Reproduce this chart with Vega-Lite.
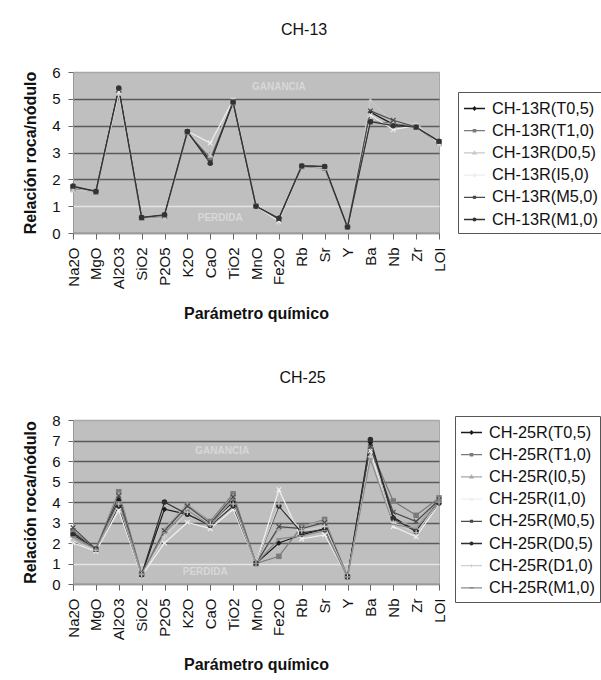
{
  "$schema": "https://vega.github.io/schema/vega-lite/v6.json",
  "background": "white",
  "padding": {"left": 22, "top": 21, "right": 0, "bottom": 0},
  "spacing": 46,
  "datasets": {
    "ch13": [
      {"p":"Na2O","s":"CH-13R(T0,5)","v":1.70},{"p":"Na2O","s":"CH-13R(T1,0)","v":1.65},{"p":"Na2O","s":"CH-13R(D0,5)","v":1.60},{"p":"Na2O","s":"CH-13R(I5,0)","v":1.70},{"p":"Na2O","s":"CH-13R(M5,0)","v":1.72},{"p":"Na2O","s":"CH-13R(M1,0)","v":1.75},
      {"p":"MgO","s":"CH-13R(T0,5)","v":1.55},{"p":"MgO","s":"CH-13R(T1,0)","v":1.53},{"p":"MgO","s":"CH-13R(D0,5)","v":1.55},{"p":"MgO","s":"CH-13R(I5,0)","v":1.55},{"p":"MgO","s":"CH-13R(M5,0)","v":1.55},{"p":"MgO","s":"CH-13R(M1,0)","v":1.55},
      {"p":"Al2O3","s":"CH-13R(T0,5)","v":5.35},{"p":"Al2O3","s":"CH-13R(T1,0)","v":5.30},{"p":"Al2O3","s":"CH-13R(D0,5)","v":5.20},{"p":"Al2O3","s":"CH-13R(I5,0)","v":5.25},{"p":"Al2O3","s":"CH-13R(M5,0)","v":5.35},{"p":"Al2O3","s":"CH-13R(M1,0)","v":5.40},
      {"p":"SiO2","s":"CH-13R(T0,5)","v":0.57},{"p":"SiO2","s":"CH-13R(T1,0)","v":0.55},{"p":"SiO2","s":"CH-13R(D0,5)","v":0.55},{"p":"SiO2","s":"CH-13R(I5,0)","v":0.58},{"p":"SiO2","s":"CH-13R(M5,0)","v":0.57},{"p":"SiO2","s":"CH-13R(M1,0)","v":0.58},
      {"p":"P2O5","s":"CH-13R(T0,5)","v":0.66},{"p":"P2O5","s":"CH-13R(T1,0)","v":0.62},{"p":"P2O5","s":"CH-13R(D0,5)","v":0.55},{"p":"P2O5","s":"CH-13R(I5,0)","v":0.65},{"p":"P2O5","s":"CH-13R(M5,0)","v":0.66},{"p":"P2O5","s":"CH-13R(M1,0)","v":0.68},
      {"p":"K2O","s":"CH-13R(T0,5)","v":3.78},{"p":"K2O","s":"CH-13R(T1,0)","v":3.75},{"p":"K2O","s":"CH-13R(D0,5)","v":3.78},{"p":"K2O","s":"CH-13R(I5,0)","v":3.80},{"p":"K2O","s":"CH-13R(M5,0)","v":3.78},{"p":"K2O","s":"CH-13R(M1,0)","v":3.78},
      {"p":"CaO","s":"CH-13R(T0,5)","v":2.70},{"p":"CaO","s":"CH-13R(T1,0)","v":2.80},{"p":"CaO","s":"CH-13R(D0,5)","v":2.90},{"p":"CaO","s":"CH-13R(I5,0)","v":3.35},{"p":"CaO","s":"CH-13R(M5,0)","v":2.65},{"p":"CaO","s":"CH-13R(M1,0)","v":2.60},
      {"p":"TiO2","s":"CH-13R(T0,5)","v":4.90},{"p":"TiO2","s":"CH-13R(T1,0)","v":4.85},{"p":"TiO2","s":"CH-13R(D0,5)","v":5.00},{"p":"TiO2","s":"CH-13R(I5,0)","v":4.95},{"p":"TiO2","s":"CH-13R(M5,0)","v":4.90},{"p":"TiO2","s":"CH-13R(M1,0)","v":4.88},
      {"p":"MnO","s":"CH-13R(T0,5)","v":1.00},{"p":"MnO","s":"CH-13R(T1,0)","v":1.00},{"p":"MnO","s":"CH-13R(D0,5)","v":1.00},{"p":"MnO","s":"CH-13R(I5,0)","v":1.00},{"p":"MnO","s":"CH-13R(M5,0)","v":1.00},{"p":"MnO","s":"CH-13R(M1,0)","v":1.00},
      {"p":"Fe2O","s":"CH-13R(T0,5)","v":0.52},{"p":"Fe2O","s":"CH-13R(T1,0)","v":0.50},{"p":"Fe2O","s":"CH-13R(D0,5)","v":0.40},{"p":"Fe2O","s":"CH-13R(I5,0)","v":0.45},{"p":"Fe2O","s":"CH-13R(M5,0)","v":0.52},{"p":"Fe2O","s":"CH-13R(M1,0)","v":0.55},
      {"p":"Rb","s":"CH-13R(T0,5)","v":2.50},{"p":"Rb","s":"CH-13R(T1,0)","v":2.48},{"p":"Rb","s":"CH-13R(D0,5)","v":2.50},{"p":"Rb","s":"CH-13R(I5,0)","v":2.50},{"p":"Rb","s":"CH-13R(M5,0)","v":2.50},{"p":"Rb","s":"CH-13R(M1,0)","v":2.50},
      {"p":"Sr","s":"CH-13R(T0,5)","v":2.47},{"p":"Sr","s":"CH-13R(T1,0)","v":2.42},{"p":"Sr","s":"CH-13R(D0,5)","v":2.45},{"p":"Sr","s":"CH-13R(I5,0)","v":2.45},{"p":"Sr","s":"CH-13R(M5,0)","v":2.47},{"p":"Sr","s":"CH-13R(M1,0)","v":2.48},
      {"p":"Y","s":"CH-13R(T0,5)","v":0.22},{"p":"Y","s":"CH-13R(T1,0)","v":0.22},{"p":"Y","s":"CH-13R(D0,5)","v":0.22},{"p":"Y","s":"CH-13R(I5,0)","v":0.22},{"p":"Y","s":"CH-13R(M5,0)","v":0.22},{"p":"Y","s":"CH-13R(M1,0)","v":0.22},
      {"p":"Ba","s":"CH-13R(T0,5)","v":4.50},{"p":"Ba","s":"CH-13R(T1,0)","v":4.15},{"p":"Ba","s":"CH-13R(D0,5)","v":4.95},{"p":"Ba","s":"CH-13R(I5,0)","v":4.40},{"p":"Ba","s":"CH-13R(M5,0)","v":4.55},{"p":"Ba","s":"CH-13R(M1,0)","v":4.15},
      {"p":"Nb","s":"CH-13R(T0,5)","v":4.05},{"p":"Nb","s":"CH-13R(T1,0)","v":4.10},{"p":"Nb","s":"CH-13R(D0,5)","v":4.10},{"p":"Nb","s":"CH-13R(I5,0)","v":3.85},{"p":"Nb","s":"CH-13R(M5,0)","v":4.20},{"p":"Nb","s":"CH-13R(M1,0)","v":4.00},
      {"p":"Zr","s":"CH-13R(T0,5)","v":3.95},{"p":"Zr","s":"CH-13R(T1,0)","v":3.95},{"p":"Zr","s":"CH-13R(D0,5)","v":4.10},{"p":"Zr","s":"CH-13R(I5,0)","v":4.00},{"p":"Zr","s":"CH-13R(M5,0)","v":3.95},{"p":"Zr","s":"CH-13R(M1,0)","v":3.95},
      {"p":"LOI","s":"CH-13R(T0,5)","v":3.40},{"p":"LOI","s":"CH-13R(T1,0)","v":3.35},{"p":"LOI","s":"CH-13R(D0,5)","v":3.30},{"p":"LOI","s":"CH-13R(I5,0)","v":3.35},{"p":"LOI","s":"CH-13R(M5,0)","v":3.40},{"p":"LOI","s":"CH-13R(M1,0)","v":3.42}
    ],
    "ch25": [
      {"p":"Na2O","s":"CH-25R(T0,5)","v":2.5},{"p":"Na2O","s":"CH-25R(T1,0)","v":2.6},{"p":"Na2O","s":"CH-25R(I0,5)","v":2.2},{"p":"Na2O","s":"CH-25R(I1,0)","v":2.0},{"p":"Na2O","s":"CH-25R(M0,5)","v":2.75},{"p":"Na2O","s":"CH-25R(D0,5)","v":2.4},{"p":"Na2O","s":"CH-25R(D1,0)","v":2.1},{"p":"Na2O","s":"CH-25R(M1,0)","v":2.3},
      {"p":"MgO","s":"CH-25R(T0,5)","v":1.7},{"p":"MgO","s":"CH-25R(T1,0)","v":1.7},{"p":"MgO","s":"CH-25R(I0,5)","v":1.65},{"p":"MgO","s":"CH-25R(I1,0)","v":1.6},{"p":"MgO","s":"CH-25R(M0,5)","v":1.7},{"p":"MgO","s":"CH-25R(D0,5)","v":1.7},{"p":"MgO","s":"CH-25R(D1,0)","v":1.65},{"p":"MgO","s":"CH-25R(M1,0)","v":1.7},
      {"p":"Al2O3","s":"CH-25R(T0,5)","v":4.1},{"p":"Al2O3","s":"CH-25R(T1,0)","v":4.5},{"p":"Al2O3","s":"CH-25R(I0,5)","v":4.4},{"p":"Al2O3","s":"CH-25R(I1,0)","v":3.6},{"p":"Al2O3","s":"CH-25R(M0,5)","v":4.3},{"p":"Al2O3","s":"CH-25R(D0,5)","v":3.8},{"p":"Al2O3","s":"CH-25R(D1,0)","v":3.9},{"p":"Al2O3","s":"CH-25R(M1,0)","v":4.0},
      {"p":"SiO2","s":"CH-25R(T0,5)","v":0.45},{"p":"SiO2","s":"CH-25R(T1,0)","v":0.5},{"p":"SiO2","s":"CH-25R(I0,5)","v":0.45},{"p":"SiO2","s":"CH-25R(I1,0)","v":0.4},{"p":"SiO2","s":"CH-25R(M0,5)","v":0.45},{"p":"SiO2","s":"CH-25R(D0,5)","v":0.45},{"p":"SiO2","s":"CH-25R(D1,0)","v":0.45},{"p":"SiO2","s":"CH-25R(M1,0)","v":0.5},
      {"p":"P2O5","s":"CH-25R(T0,5)","v":3.65},{"p":"P2O5","s":"CH-25R(T1,0)","v":2.6},{"p":"P2O5","s":"CH-25R(I0,5)","v":2.7},{"p":"P2O5","s":"CH-25R(I1,0)","v":2.0},{"p":"P2O5","s":"CH-25R(M0,5)","v":2.6},{"p":"P2O5","s":"CH-25R(D0,5)","v":4.0},{"p":"P2O5","s":"CH-25R(D1,0)","v":2.3},{"p":"P2O5","s":"CH-25R(M1,0)","v":2.5},
      {"p":"K2O","s":"CH-25R(T0,5)","v":3.4},{"p":"K2O","s":"CH-25R(T1,0)","v":3.85},{"p":"K2O","s":"CH-25R(I0,5)","v":3.9},{"p":"K2O","s":"CH-25R(I1,0)","v":3.0},{"p":"K2O","s":"CH-25R(M0,5)","v":3.8},{"p":"K2O","s":"CH-25R(D0,5)","v":3.4},{"p":"K2O","s":"CH-25R(D1,0)","v":3.5},{"p":"K2O","s":"CH-25R(M1,0)","v":3.6},
      {"p":"CaO","s":"CH-25R(T0,5)","v":2.9},{"p":"CaO","s":"CH-25R(T1,0)","v":3.05},{"p":"CaO","s":"CH-25R(I0,5)","v":3.0},{"p":"CaO","s":"CH-25R(I1,0)","v":2.7},{"p":"CaO","s":"CH-25R(M0,5)","v":2.95},{"p":"CaO","s":"CH-25R(D0,5)","v":2.85},{"p":"CaO","s":"CH-25R(D1,0)","v":2.9},{"p":"CaO","s":"CH-25R(M1,0)","v":2.85},
      {"p":"TiO2","s":"CH-25R(T0,5)","v":4.0},{"p":"TiO2","s":"CH-25R(T1,0)","v":4.4},{"p":"TiO2","s":"CH-25R(I0,5)","v":4.3},{"p":"TiO2","s":"CH-25R(I1,0)","v":3.65},{"p":"TiO2","s":"CH-25R(M0,5)","v":4.25},{"p":"TiO2","s":"CH-25R(D0,5)","v":3.8},{"p":"TiO2","s":"CH-25R(D1,0)","v":3.9},{"p":"TiO2","s":"CH-25R(M1,0)","v":4.1},
      {"p":"MnO","s":"CH-25R(T0,5)","v":1.0},{"p":"MnO","s":"CH-25R(T1,0)","v":1.0},{"p":"MnO","s":"CH-25R(I0,5)","v":1.0},{"p":"MnO","s":"CH-25R(I1,0)","v":1.0},{"p":"MnO","s":"CH-25R(M0,5)","v":1.0},{"p":"MnO","s":"CH-25R(D0,5)","v":1.0},{"p":"MnO","s":"CH-25R(D1,0)","v":1.0},{"p":"MnO","s":"CH-25R(M1,0)","v":1.0},
      {"p":"Fe2O","s":"CH-25R(T0,5)","v":2.0},{"p":"Fe2O","s":"CH-25R(T1,0)","v":1.35},{"p":"Fe2O","s":"CH-25R(I0,5)","v":2.7},{"p":"Fe2O","s":"CH-25R(I1,0)","v":4.6},{"p":"Fe2O","s":"CH-25R(M0,5)","v":2.8},{"p":"Fe2O","s":"CH-25R(D0,5)","v":3.8},{"p":"Fe2O","s":"CH-25R(D1,0)","v":3.9},{"p":"Fe2O","s":"CH-25R(M1,0)","v":2.2},
      {"p":"Rb","s":"CH-25R(T0,5)","v":2.4},{"p":"Rb","s":"CH-25R(T1,0)","v":2.8},{"p":"Rb","s":"CH-25R(I0,5)","v":2.8},{"p":"Rb","s":"CH-25R(I1,0)","v":2.2},{"p":"Rb","s":"CH-25R(M0,5)","v":2.7},{"p":"Rb","s":"CH-25R(D0,5)","v":2.5},{"p":"Rb","s":"CH-25R(D1,0)","v":2.6},{"p":"Rb","s":"CH-25R(M1,0)","v":2.35},
      {"p":"Sr","s":"CH-25R(T0,5)","v":2.7},{"p":"Sr","s":"CH-25R(T1,0)","v":3.15},{"p":"Sr","s":"CH-25R(I0,5)","v":3.1},{"p":"Sr","s":"CH-25R(I1,0)","v":2.4},{"p":"Sr","s":"CH-25R(M0,5)","v":3.0},{"p":"Sr","s":"CH-25R(D0,5)","v":2.65},{"p":"Sr","s":"CH-25R(D1,0)","v":2.8},{"p":"Sr","s":"CH-25R(M1,0)","v":2.6},
      {"p":"Y","s":"CH-25R(T0,5)","v":0.35},{"p":"Y","s":"CH-25R(T1,0)","v":0.35},{"p":"Y","s":"CH-25R(I0,5)","v":0.35},{"p":"Y","s":"CH-25R(I1,0)","v":0.35},{"p":"Y","s":"CH-25R(M0,5)","v":0.35},{"p":"Y","s":"CH-25R(D0,5)","v":0.35},{"p":"Y","s":"CH-25R(D1,0)","v":0.35},{"p":"Y","s":"CH-25R(M1,0)","v":0.35},
      {"p":"Ba","s":"CH-25R(T0,5)","v":6.9},{"p":"Ba","s":"CH-25R(T1,0)","v":6.6},{"p":"Ba","s":"CH-25R(I0,5)","v":6.3},{"p":"Ba","s":"CH-25R(I1,0)","v":6.5},{"p":"Ba","s":"CH-25R(M0,5)","v":6.7},{"p":"Ba","s":"CH-25R(D0,5)","v":7.05},{"p":"Ba","s":"CH-25R(D1,0)","v":6.2},{"p":"Ba","s":"CH-25R(M1,0)","v":6.1},
      {"p":"Nb","s":"CH-25R(T0,5)","v":3.25},{"p":"Nb","s":"CH-25R(T1,0)","v":4.05},{"p":"Nb","s":"CH-25R(I0,5)","v":3.1},{"p":"Nb","s":"CH-25R(I1,0)","v":2.8},{"p":"Nb","s":"CH-25R(M0,5)","v":3.5},{"p":"Nb","s":"CH-25R(D0,5)","v":3.2},{"p":"Nb","s":"CH-25R(D1,0)","v":3.0},{"p":"Nb","s":"CH-25R(M1,0)","v":2.9},
      {"p":"Zr","s":"CH-25R(T0,5)","v":2.6},{"p":"Zr","s":"CH-25R(T1,0)","v":3.35},{"p":"Zr","s":"CH-25R(I0,5)","v":2.8},{"p":"Zr","s":"CH-25R(I1,0)","v":2.3},{"p":"Zr","s":"CH-25R(M0,5)","v":3.05},{"p":"Zr","s":"CH-25R(D0,5)","v":2.55},{"p":"Zr","s":"CH-25R(D1,0)","v":2.5},{"p":"Zr","s":"CH-25R(M1,0)","v":2.7},
      {"p":"LOI","s":"CH-25R(T0,5)","v":4.05},{"p":"LOI","s":"CH-25R(T1,0)","v":4.2},{"p":"LOI","s":"CH-25R(I0,5)","v":4.15},{"p":"LOI","s":"CH-25R(I1,0)","v":3.9},{"p":"LOI","s":"CH-25R(M0,5)","v":4.1},{"p":"LOI","s":"CH-25R(D0,5)","v":3.95},{"p":"LOI","s":"CH-25R(D1,0)","v":4.0},{"p":"LOI","s":"CH-25R(M1,0)","v":4.0}
    ],
    "gan13": [{"p": "Fe2O", "v": 5.45, "t": "GANANCIA"}],
    "per13": [{"p": "CaO", "v": 0.55, "t": "PERDIDA"}],
    "gan25": [{"p": "CaO", "v": 6.5, "t": "GANANCIA"}],
    "per25": [{"p": "CaO", "v": 0.6, "t": "PERDIDA"}]
  },
  "vconcat": [
    {
      "title": {"text": "CH-13"},
      "width": 366,
      "height": 161,
      "data": {"name": "ch13"},
      "encoding": {
        "x": {"field": "p", "type": "nominal", "scale": {"type": "point", "padding": 0, "domain": ["Na2O","MgO","Al2O3","SiO2","P2O5","K2O","CaO","TiO2","MnO","Fe2O","Rb","Sr","Y","Ba","Nb","Zr","LOI"]}, "axis": {"title": "Parámetro químico", "labelAngle": -90}},
        "y": {"field": "v", "type": "quantitative", "scale": {"domain": [0, 6]}, "axis": {"title": "Relación roca/nódulo", "values": [0,1,2,3,4,5,6], "gridColor": {"condition": [{"test": "datum.value === 1", "value": "#e4e4e4"}, {"test": "datum.value === 6", "value": "#a8a8a8"}], "value": "#5a5a5a"}}}
      },
      "layer": [
        {
          "mark": {"type": "line", "strokeWidth": 1.2},
          "encoding": {"color": {"field": "s", "type": "nominal", "legend": null, "scale": {"domain": ["CH-13R(T0,5)","CH-13R(T1,0)","CH-13R(D0,5)","CH-13R(I5,0)","CH-13R(M5,0)","CH-13R(M1,0)"], "range": ["#1a1a1a","#7a7a7a","#c8c8c8","#eeeeee","#4a4a4a","#333333"]}}}
        },
        {
          "mark": {"type": "point", "filled": true, "opacity": 1, "size": 30},
          "encoding": {
            "color": {"field": "s", "type": "nominal", "legend": null, "scale": {"domain": ["CH-13R(T0,5)","CH-13R(T1,0)","CH-13R(D0,5)","CH-13R(I5,0)","CH-13R(M5,0)","CH-13R(M1,0)"], "range": ["#1a1a1a","#7a7a7a","#c8c8c8","#eeeeee","#4a4a4a","#333333"]}},
            "shape": {"field": "s", "type": "nominal", "legend": null, "scale": {"domain": ["CH-13R(T0,5)","CH-13R(T1,0)","CH-13R(D0,5)","CH-13R(I5,0)","CH-13R(M5,0)","CH-13R(M1,0)"], "range": ["diamond","square","triangle-up","M-1,-0.7L-0.7,-1L0,-0.3L0.7,-1L1,-0.7L0.3,0L1,0.7L0.7,1L0,0.3L-0.7,1L-1,0.7L-0.3,0Z","M-1,-0.7L-0.7,-1L0,-0.3L0.7,-1L1,-0.7L0.3,0L1,0.7L0.7,1L0,0.3L-0.7,1L-1,0.7L-0.3,0Z","circle"]}}
          }
        },
        {
          "transform": [{"filter": "false"}],
          "mark": {"type": "point", "filled": false, "opacity": 1, "strokeWidth": 1.3, "size": 441},
          "encoding": {
            "color": {"field": "s", "type": "nominal", "legend": {"orient": "none", "legendX": 385, "legendY": 20}, "scale": {"domain": ["CH-13R(T0,5)","CH-13R(T1,0)","CH-13R(D0,5)","CH-13R(I5,0)","CH-13R(M5,0)","CH-13R(M1,0)"], "range": ["#1a1a1a","#7a7a7a","#c8c8c8","#eeeeee","#4a4a4a","#333333"]}},
            "shape": {"field": "s", "type": "nominal", "legend": {"orient": "none", "legendX": 385, "legendY": 20}, "scale": {"domain": ["CH-13R(T0,5)","CH-13R(T1,0)","CH-13R(D0,5)","CH-13R(I5,0)","CH-13R(M5,0)","CH-13R(M1,0)"], "range": ["M-1,0H1M0,-0.14L0.14,0L0,0.14L-0.14,0Z","M-1,0H1M-0.11,-0.11H0.11V0.11H-0.11Z","M-1,0H1M0,-0.14L0.14,0.1H-0.14Z","M-1,0H1M-0.13,-0.13L0.13,0.13M-0.13,0.13L0.13,-0.13","M-1,0H1M-0.13,-0.13L0.13,0.13M-0.13,0.13L0.13,-0.13M0,-0.15V0.15","M-1,0H1M0.13,0A0.13,0.13,0,1,1,-0.13,0A0.13,0.13,0,1,1,0.13,0"]}}
          }
        },
        {
          "data": {"name": "gan13"},
          "mark": {"type": "text", "fontSize": 10, "fontWeight": "bold", "color": "#d8d8d8"},
          "encoding": {"text": {"field": "t"}}
        },
        {
          "data": {"name": "per13"},
          "mark": {"type": "text", "fontSize": 10, "fontWeight": "bold", "color": "#d8d8d8", "dx": 10},
          "encoding": {"text": {"field": "t"}}
        }
      ],
      "resolve": {"scale": {"color": "independent", "shape": "independent"}, "legend": {"color": "independent", "shape": "independent"}}
    },
    {
      "title": {"text": "CH-25"},
      "width": 366,
      "height": 164,
      "data": {"name": "ch25"},
      "encoding": {
        "x": {"field": "p", "type": "nominal", "scale": {"type": "point", "padding": 0, "domain": ["Na2O","MgO","Al2O3","SiO2","P2O5","K2O","CaO","TiO2","MnO","Fe2O","Rb","Sr","Y","Ba","Nb","Zr","LOI"]}, "axis": {"title": "Parámetro químico", "labelAngle": -90}},
        "y": {"field": "v", "type": "quantitative", "scale": {"domain": [0, 8]}, "axis": {"title": "Relación roca/nódulo", "values": [0,1,2,3,4,5,6,7,8], "gridColor": {"condition": [{"test": "datum.value === 1", "value": "#e4e4e4"}, {"test": "datum.value === 8", "value": "#a8a8a8"}], "value": "#5a5a5a"}}}
      },
      "layer": [
        {
          "mark": {"type": "line", "strokeWidth": 1.2},
          "encoding": {"color": {"field": "s", "type": "nominal", "legend": null, "scale": {"domain": ["CH-25R(T0,5)","CH-25R(T1,0)","CH-25R(I0,5)","CH-25R(I1,0)","CH-25R(M0,5)","CH-25R(D0,5)","CH-25R(D1,0)","CH-25R(M1,0)"], "range": ["#1a1a1a","#7a7a7a","#a8a8a8","#f0f0f0","#4a4a4a","#2e2e2e","#d0d0d0","#8c8c8c"]}}}
        },
        {
          "mark": {"type": "point", "filled": true, "opacity": 1, "size": 30},
          "encoding": {
            "color": {"field": "s", "type": "nominal", "legend": null, "scale": {"domain": ["CH-25R(T0,5)","CH-25R(T1,0)","CH-25R(I0,5)","CH-25R(I1,0)","CH-25R(M0,5)","CH-25R(D0,5)","CH-25R(D1,0)","CH-25R(M1,0)"], "range": ["#1a1a1a","#7a7a7a","#a8a8a8","#f0f0f0","#4a4a4a","#2e2e2e","#d0d0d0","#8c8c8c"]}},
            "shape": {"field": "s", "type": "nominal", "legend": null, "scale": {"domain": ["CH-25R(T0,5)","CH-25R(T1,0)","CH-25R(I0,5)","CH-25R(I1,0)","CH-25R(M0,5)","CH-25R(D0,5)","CH-25R(D1,0)","CH-25R(M1,0)"], "range": ["diamond","square","triangle-up","M-1,-0.7L-0.7,-1L0,-0.3L0.7,-1L1,-0.7L0.3,0L1,0.7L0.7,1L0,0.3L-0.7,1L-1,0.7L-0.3,0Z","M-1,-0.7L-0.7,-1L0,-0.3L0.7,-1L1,-0.7L0.3,0L1,0.7L0.7,1L0,0.3L-0.7,1L-1,0.7L-0.3,0Z","circle","M-1,-0.2H1V0.2H-1Z M-0.2,-1H0.2V1H-0.2Z","M-1,-0.25H1V0.25H-1Z"]}}
          }
        },
        {
          "transform": [{"filter": "false"}],
          "mark": {"type": "point", "filled": false, "opacity": 1, "strokeWidth": 1.3, "size": 441},
          "encoding": {
            "color": {"field": "s", "type": "nominal", "legend": {"orient": "none", "legendX": 382, "legendY": -4}, "scale": {"domain": ["CH-25R(T0,5)","CH-25R(T1,0)","CH-25R(I0,5)","CH-25R(I1,0)","CH-25R(M0,5)","CH-25R(D0,5)","CH-25R(D1,0)","CH-25R(M1,0)"], "range": ["#1a1a1a","#7a7a7a","#a8a8a8","#f0f0f0","#4a4a4a","#2e2e2e","#d0d0d0","#8c8c8c"]}},
            "shape": {"field": "s", "type": "nominal", "legend": {"orient": "none", "legendX": 382, "legendY": -4}, "scale": {"domain": ["CH-25R(T0,5)","CH-25R(T1,0)","CH-25R(I0,5)","CH-25R(I1,0)","CH-25R(M0,5)","CH-25R(D0,5)","CH-25R(D1,0)","CH-25R(M1,0)"], "range": ["M-1,0H1M0,-0.14L0.14,0L0,0.14L-0.14,0Z","M-1,0H1M-0.11,-0.11H0.11V0.11H-0.11Z","M-1,0H1M0,-0.14L0.14,0.1H-0.14Z","M-1,0H1M-0.13,-0.13L0.13,0.13M-0.13,0.13L0.13,-0.13","M-1,0H1M-0.13,-0.13L0.13,0.13M-0.13,0.13L0.13,-0.13M0,-0.15V0.15","M-1,0H1M0.13,0A0.13,0.13,0,1,1,-0.13,0A0.13,0.13,0,1,1,0.13,0","M-1,0H1M0,-0.15V0.15","M-1,0H1M-0.15,-0.03H0.15V0.03H-0.15Z"]}}
          }
        },
        {
          "data": {"name": "gan25"},
          "mark": {"type": "text", "fontSize": 10, "fontWeight": "bold", "color": "#d8d8d8", "dx": 12},
          "encoding": {"text": {"field": "t"}}
        },
        {
          "data": {"name": "per25"},
          "mark": {"type": "text", "fontSize": 10, "fontWeight": "bold", "color": "#d8d8d8", "dx": -5},
          "encoding": {"text": {"field": "t"}}
        }
      ],
      "resolve": {"scale": {"color": "independent", "shape": "independent"}, "legend": {"color": "independent", "shape": "independent"}}
    }
  ],
  "config": {
    "font": "Liberation Sans",
    "view": {"fill": "#bfbfbf", "stroke": "#a8a8a8", "strokeWidth": 1},
    "title": {"fontSize": 16, "fontWeight": "normal", "font": "Liberation Sans", "color": "#111111", "anchor": "middle", "frame": "bounds", "offset": 27, "dx": -9},
    "axis": {"labelFont": "Liberation Sans", "labelFontSize": 15, "labelColor": "#111111", "titleFont": "Liberation Sans", "titleFontSize": 16, "titleFontWeight": "bold", "titleColor": "#111111", "domainColor": "#999999", "tickColor": "#666666"},
    "axisX": {"tickSize": 6, "labelPadding": 8, "titlePadding": 17, "grid": false},
    "axisY": {"tickSize": 5, "labelPadding": 8, "titlePadding": 13, "grid": true, "gridWidth": 1.4},
    "legend": {"labelFont": "Liberation Sans", "labelFontSize": 16.3, "labelColor": "#111111", "strokeColor": "#555555", "fillColor": "white", "padding": 5, "rowPadding": 2.2, "symbolSize": 441, "symbolStrokeWidth": 1.3, "labelOffset": 6, "title": null, "cornerRadius": 0}
  }
}
